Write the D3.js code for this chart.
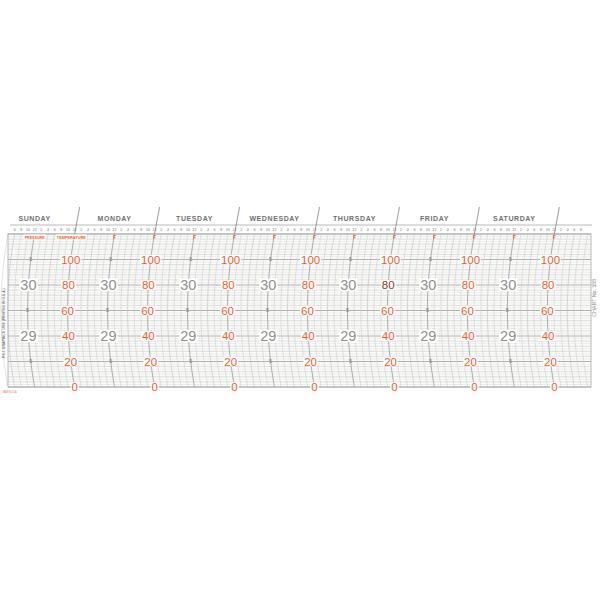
<!DOCTYPE html>
<html>
<head>
<meta charset="utf-8">
<script src="https://cdn.jsdelivr.net/npm/d3@7"></script>
<style>
  html, body { margin: 0; padding: 0; background: #ffffff; }
  svg { display: block; }
  text { font-family: "Liberation Sans", Arial, sans-serif; }
</style>
</head>
<body>
<svg id="chart" width="600" height="600"></svg>
<script>
// ---------- data ----------
const days = ["SUNDAY", "MONDAY", "TUESDAY", "WEDNESDAY", "THURSDAY", "FRIDAY", "SATURDAY"];
const hourTicks = [2, 4, 6, 8, 10, 12];          // printed every 2 hours
const timeDomain = [4, 179];                     // hours from Sunday 00:00 shown on the sheet
const pressureDomain = [28, 31];                 // inches of mercury
const temperatureDomain = [0, 120];              // degrees F
const pressureMajor = [30, 29];
const pressureHalf = [30.5, 29.5, 28.5];
const temperatureLabels = [100, 80, 60, 40, 20, 0];
const footLeft = "P.S.I. GRAPHICS 1996 (PRINTED IN U.S.A.)";
const footRight = "CHART No. 355";

// ---------- layout ----------
const svg = d3.select("#chart");
const gx0 = 8, gx1 = 591, gy0 = 234, gy1 = 387;

const x = d3.scaleLinear().domain(timeDomain).range([gx0, gx1]);
const yP = d3.scaleLinear().domain(pressureDomain).range([gy1, gy0]);
const yT = d3.scaleLinear().domain(temperatureDomain).range([gy1, gy0]);

const red = "#f15a2e";

// time lines on a barograph sheet are arcs of the pen's swing
const bulgeMax = 7;
const yMid = (gy0 + gy1) / 2, halfH = (gy1 - gy0) / 2;
function bulge(y) { const u = (y - yMid) / halfH; return bulgeMax * (1 - u * u); }
function arcX(t, y) { return x(t) - bulge(y); }

// ---------- grid ----------
const grid = svg.append("g");
grid.append("rect").attr("x", gx0).attr("y", gy0).attr("width", gx1 - gx0).attr("height", gy1 - gy0)
  .attr("fill", "#fcfcfb");

// horizontal pressure lines every 0.05 in
const hLines = d3.range(Math.round(pressureDomain[0] * 20), Math.round(pressureDomain[1] * 20) + 1).map(d => d / 20);
grid.selectAll("line.h").data(hLines).join("line")
  .attr("x1", gx0).attr("x2", gx1)
  .attr("y1", d => yP(d)).attr("y2", d => yP(d))
  .attr("stroke", d => (Math.round(d * 20) % 10 === 0) ? "#a3a6a3" : (Math.round(d * 20) % 2 === 0 ? "#c6c9c6" : "#dfe1df"))
  .attr("stroke-width", d => (Math.round(d * 20) % 10 === 0) ? 0.9 : 0.6);

// vertical time arcs every 2 hours
const ys = d3.range(gy0, gy1 + 0.1, 3);
const arcLine = d3.line().curve(d3.curveBasis);
const vTimes = d3.range(Math.ceil(timeDomain[0] / 2) * 2, timeDomain[1] + 0.01, 2);
grid.selectAll("path.v").data(vTimes).join("path")
  .attr("d", t => arcLine(ys.map(y => [arcX(t, y), y])))
  .attr("fill", "none")
  .attr("stroke", t => t % 12 === 0 ? "#a3a6a3" : (t % 6 === 0 ? "#bfc2bf" : "#cdd0cd"))
  .attr("stroke-width", t => t % 12 === 0 ? 0.9 : 0.6);

grid.append("rect").attr("x", gx0).attr("y", gy0).attr("width", gx1 - gx0).attr("height", gy1 - gy0)
  .attr("fill", "none").attr("stroke", "#a8aba8").attr("stroke-width", 0.8);

// ---------- header ----------
const head = svg.append("g");
head.append("line").attr("x1", gx0 + 2).attr("x2", gx1 + 1).attr("y1", 225).attr("y2", 225)
  .attr("stroke", "#a8a8a8").attr("stroke-width", 0.8);

const midnights = d3.range(1, days.length + 1).map(d => d * 24);
head.selectAll("line.sep").data(midnights).join("line")
  .attr("x1", t => x(t) + 5).attr("y1", 207)
  .attr("x2", t => x(t)).attr("y2", gy0)
  .attr("stroke", "#808080").attr("stroke-width", 0.8);

head.selectAll("text.day").data(days).join("text")
  .attr("x", (d, i) => x(i * 24 + 12)).attr("y", 221)
  .attr("text-anchor", "middle").attr("font-size", 7).attr("font-weight", "bold")
  .attr("letter-spacing", 0.6).attr("fill", "#707070").text(d => d);

const labelTimes = d3.range(6, 177, 2);
head.selectAll("text.hr").data(labelTimes).join("text")
  .attr("x", t => x(t)).attr("y", 230.5)
  .attr("text-anchor", "middle").attr("font-size", 3.6).attr("fill", "#707070")
  .text(t => hourTicks[((t / 2) - 1) % hourTicks.length]);

// red markers at noon and midnight (after Sunday)
const markTimes = d3.range(36, 169, 12);
head.selectAll("text.mk").data(markTimes).join("text")
  .attr("x", t => x(t)).attr("y", 239)
  .attr("text-anchor", "middle").attr("font-size", 5).attr("font-weight", "bold")
  .attr("fill", red).text("F");

// PRESSURE / TEMPERATURE captions
const caps = [{t: 12, text: "PRESSURE", w: 22}, {t: 23, text: "TEMPERATURE", w: 31}];
caps.forEach(c => {
  head.append("rect").attr("x", x(c.t) - c.w / 2).attr("y", 234.5).attr("width", c.w).attr("height", 5)
    .attr("fill", "#ffffff");
  head.append("text").attr("x", x(c.t)).attr("y", 238.6).attr("text-anchor", "middle")
    .attr("font-size", 4.2).attr("font-weight", "bold").attr("fill", red)
    .attr("textLength", c.w - 2).attr("lengthAdjust", "spacingAndGlyphs").text(c.text);
});

// ---------- scale labels ----------
const labels = svg.append("g");
const noons = d3.range(0, days.length).map(d => d * 24 + 12);

function boxedText(g, cx, cy, txt, size, color) {
  const t = g.append("text").attr("x", cx).attr("y", cy).attr("dy", "0.36em")
    .attr("text-anchor", "middle").attr("font-size", size).attr("fill", color).text(txt);
  const bb = t.node().getBBox();
  g.insert("rect", () => t.node())
    .attr("x", bb.x - 1).attr("y", cy - size * 0.42).attr("width", bb.width + 2).attr("height", size * 0.84)
    .attr("fill", "#ffffff");
}

noons.forEach(t => {
  pressureMajor.forEach(p => boxedText(labels, arcX(t, yP(p)), yP(p), String(p), 14.5, "#8e8e8e"));
  pressureHalf.forEach(p => {
    labels.append("text").attr("x", arcX(t, yP(p))).attr("y", yP(p)).attr("dy", "0.36em")
      .attr("text-anchor", "middle").attr("font-size", 5.5).attr("fill", "#7a7a7a").text("5");
  });
});

midnights.forEach((t, i) => {
  temperatureLabels.forEach(v => {
    const dark = (i === 4 && v === 80);
    boxedText(labels, arcX(t, yT(v)), yT(v), String(v), 11.5, dark ? "#7a3b2c" : red);
  });
});

// ---------- marginal texts ----------
svg.append("text").attr("transform", `translate(5,${yP(29.25)}) rotate(-90)`)
  .attr("text-anchor", "middle").attr("font-size", 4.2).attr("font-weight", "bold").attr("fill", "#777")
  .attr("textLength", 70).attr("lengthAdjust", "spacingAndGlyphs").text(footLeft);
svg.append("text").attr("transform", `translate(596,${yP(29.75)}) rotate(-90)`)
  .attr("text-anchor", "middle").attr("font-size", 4.5).attr("fill", "#888")
  .attr("textLength", 38).attr("lengthAdjust", "spacingAndGlyphs").text(footRight);
svg.append("text").attr("x", 3).attr("y", 393).attr("font-size", 2.6).attr("fill", red)
  .attr("textLength", 14).attr("lengthAdjust", "spacingAndGlyphs").text("MADE IN U.S.A.");
</script>
</body>
</html>
